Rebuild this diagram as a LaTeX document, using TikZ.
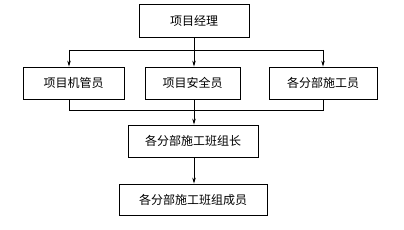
\documentclass[tikz,border=0pt]{standalone}
\usepackage{fontspec}
\setmainfont{Noto Sans CJK SC}
\usetikzlibrary{arrows.meta, calc}

\tikzset{
  post/.style={draw, line width=0.8pt, inner sep=0pt, font=\fontsize{12}{14}\selectfont},
}

\begin{document}
\begin{tikzpicture}[x=1pt, y=1pt, >={Stealth[length=6pt, width=3.5pt]}, line width=0.8pt]
  \useasboundingbox (0,0) rectangle (404,-230);
  % boxes
  \node[post, minimum width=110pt, minimum height=33pt] (pm) at (194,-20.5) {项目经理};
  \node[post, minimum width=101pt, minimum height=32pt] (jg) at (73.5,-83) {项目机管员};
  \node[post, minimum width=95pt, minimum height=32pt] (aq) at (192.5,-83) {项目安全员};
  \node[post, minimum width=108pt, minimum height=32pt] (sg) at (323,-83) {各分部施工员};
  \node[post, minimum width=130pt, minimum height=32pt] (bz) at (193,-141) {各分部施工班组长};
  \node[post, minimum width=148pt, minimum height=31pt] (cy) at (193,-199.5) {各分部施工班组成员};
  % top fork
  \coordinate (upL) at (69,-50);
  \coordinate (upR) at (sg.north |- upL);
  \coordinate (upM) at (pm.south |- upL);
  \draw (pm.south) -- (upM);
  \draw (upL) -- (upR);
  \draw[->] (upL) -- (upL |- jg.north);
  \draw[->] (upM) -- (upM |- aq.north);
  \draw[->] (upR) -- (sg.north);
  % lower join
  \coordinate (loL) at (69,-110);
  \coordinate (loR) at (sg.south |- loL);
  \draw (loL |- jg.south) -- (loL) -- (loR) -- (sg.south);
  \draw[->] (upM |- aq.south) -- (upM |- bz.north);
  \draw[->] (upM |- bz.south) -- (upM |- cy.north);
\end{tikzpicture}
\end{document}
